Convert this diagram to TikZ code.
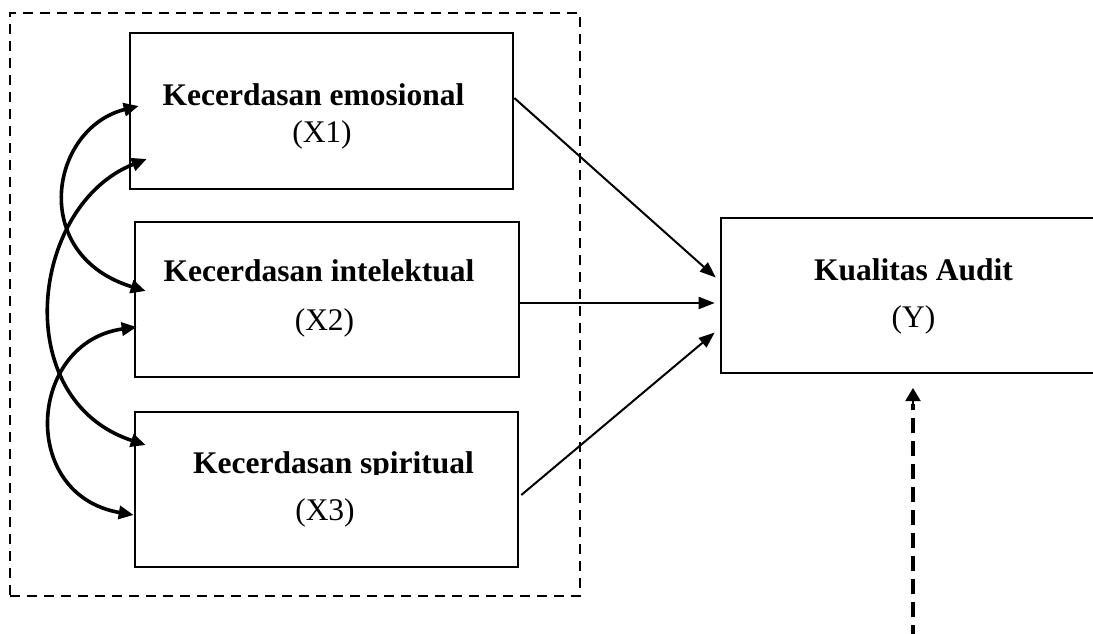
\documentclass[tikz,border=0pt]{standalone}
\usepackage{fontspec}
\setmainfont{Liberation Serif}
\usetikzlibrary{arrows.meta}
\tikzset{
  varbox/.style={draw=black, line width=2.6pt, minimum width=383pt, minimum height=155pt, inner sep=0pt},
  groupbox/.style={draw=black, line width=2.6pt, dash pattern=on 10pt off 7pt, inner sep=0pt},
  title/.style={font=\fontsize{31.5}{38}\selectfont\bfseries, anchor=base, inner sep=0pt},
  label/.style={font=\fontsize{31.5}{38}\selectfont, anchor=base, inner sep=0pt},
  effect/.style={line width=2pt, -{Triangle[length=16pt,width=12pt]}},
  corr/.style={line width=3.6pt, {Triangle[length=15pt,width=13pt]}-{Triangle[length=15pt,width=13pt]}},
  extdash/.style={line width=3.4pt, dash pattern=on 15pt off 8pt},
  extarrow/.style={line width=2pt, -{Triangle[length=13pt,width=15pt]}}
}
\begin{document}
\begin{tikzpicture}[x=1pt,y=-1pt]
\clip (0,0) rectangle (1093,634);
\fill[white] (0,0) rectangle (1093,634);
% group box
\node[groupbox, minimum width=570pt, minimum height=583pt] (grp) at (295,304.5) {};
% variable boxes
\node[varbox, minimum width=383pt, minimum height=156pt] (x1) at (321.5,111) {};
\node[varbox, minimum width=384pt] (x2) at (327,299.5) {};
\node[varbox] (x3) at (326.5,489.5) {};
\node[varbox, minimum width=389pt] (y) at (915.5,295.5) {};
% texts
\node[title] (t1) at (313.5,106) {Kecerdasan emosional};
\node[label] (l1) at (322,142) {(X1)};
\node[title] (t2) at (319,281) {Kecerdasan intelektual};
\node[label] (l2) at (324.5,330) {(X2)};
\begin{scope}
  \clip (136,430) rectangle (517,474);
  \node[title] (t3) at (333.5,473) {Kecerdasan spiritual};
\end{scope}
\node[label] (l3) at (325,520) {(X3)};
\node[title] (ty) at (913.5,280) {Kualitas Audit};
\node[label] (ly) at (913.5,327) {(Y)};
% effects
\draw[effect] ([yshift=13pt]x1.east) -- ([xshift=-4pt,yshift=18pt]y.west);
\draw[effect] ([yshift=-3.5pt]x2.east) -- ([xshift=-5pt,yshift=-7.5pt]y.west);
\draw[effect] ([xshift=2pt,yshift=-5.5pt]x3.east) -- ([xshift=-5pt,yshift=-37pt]y.west);
% correlations
\draw[corr] ([xshift=10pt,yshift=5pt]x1.west) .. controls (50,128) and (28,255) .. ([xshift=12pt,yshift=8.5pt]x2.west);
\draw[corr] ([xshift=18pt,yshift=-48pt]x1.west) .. controls (30,205) and (8,400) .. ([xshift=12pt,yshift=44.5pt]x3.west);
\draw[corr] ([xshift=3pt,yshift=-27.5pt]x2.west) .. controls (28,342) and (18,495) .. ([yshift=-25.5pt]x3.west);
% external factor
\coordinate (eb) at (913,640);
\coordinate (em) at (913,404);
\coordinate (et) at (913,388);
\draw[extdash] (eb) -- (em);
\draw[extarrow] (em) -- (et);
\end{tikzpicture}
\end{document}
